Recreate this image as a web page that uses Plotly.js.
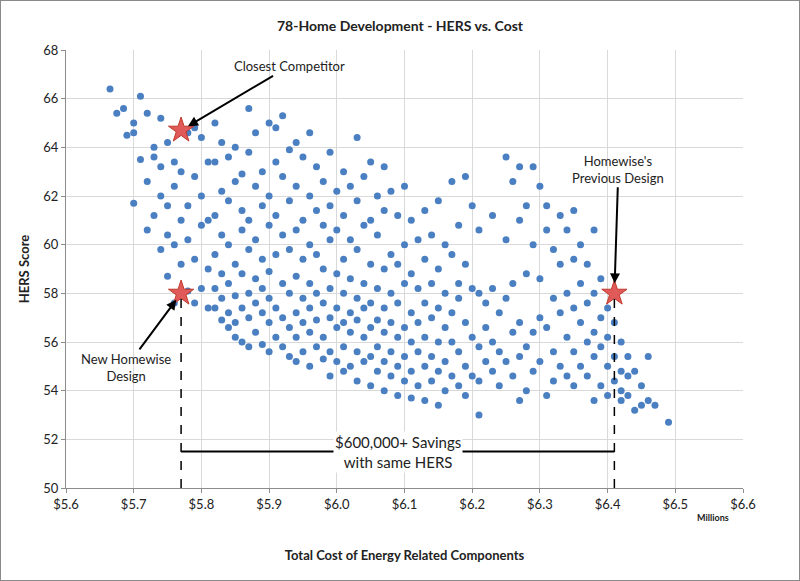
<!DOCTYPE html>
<html>
<head>
<meta charset="utf-8">
<script src="https://cdn.plot.ly/plotly-3.0.1.min.js"></script>
<style>
  html, body { margin: 0; padding: 0; background: #fff; }
  #chart { width: 798px; height: 579px; border: 1px solid #8a8a8a; }
</style>
</head>
<body>
<div id="chart"></div>
<script>
// HERS score vs. total cost of energy components (millions), grouped by cost column
const costColumns = [
  5.665, 5.675, 5.685, 5.69, 5.70, 5.71, 5.72, 5.73, 5.74, 5.75, 5.76, 5.77, 5.78, 5.79, 5.80, 5.81,
  5.82, 5.83, 5.84, 5.85, 5.86, 5.87, 5.88, 5.89, 5.90, 5.91, 5.92, 5.93, 5.94, 5.95, 5.96, 5.97,
  5.98, 5.99, 6.00, 6.01, 6.02, 6.03, 6.04, 6.05, 6.06, 6.07, 6.08, 6.09, 6.10, 6.11, 6.12, 6.13,
  6.14, 6.15, 6.16, 6.17, 6.18, 6.19, 6.20, 6.21, 6.22, 6.23, 6.24, 6.25, 6.26, 6.27, 6.28, 6.29,
  6.30, 6.31, 6.32, 6.33, 6.34, 6.35, 6.36, 6.37, 6.38, 6.39, 6.40, 6.41, 6.42, 6.43, 6.44, 6.45,
  6.46, 6.47, 6.49
];
const scoreColumns = [
  [66.4], [65.4], [65.6], [64.5], [64.6, 61.7, 65.0], [66.1, 63.5], [60.6, 65.4, 62.6],
  [63.6, 64.0, 61.2], [65.2, 63.2, 59.8, 62.0], [64.2, 61.6, 58.7, 60.4], [62.4, 60.0, 63.4, 57.6],
  [63.0, 59.2, 61.0], [64.6, 61.6, 58.1, 60.2], [62.8, 57.6, 59.4, 64.8], [64.4, 58.2, 60.8, 62.0],
  [63.4, 57.4, 59.0, 61.0],
  [65.0, 63.4, 61.2, 59.6, 58.2, 57.4], [64.2, 62.2, 60.4, 58.8, 57.8, 56.9],
  [63.6, 61.8, 60.0, 58.4, 57.2, 56.6], [64.0, 62.6, 59.2, 57.9, 56.8, 56.2],
  [62.9, 61.4, 60.6, 58.8, 57.4, 56.0], [65.6, 63.8, 61.0, 59.8, 58.0, 57.0, 55.8],
  [64.6, 62.4, 60.2, 58.6, 57.6, 56.4], [63.0, 61.6, 59.4, 58.2, 57.2, 55.9],
  [65.0, 62.0, 60.8, 58.9, 57.8, 56.8, 55.6], [64.8, 63.4, 61.2, 59.6, 57.4, 56.2],
  [65.3, 62.8, 60.4, 58.4, 57.0, 55.8], [63.9, 61.8, 59.8, 58.0, 56.6, 55.4],
  [64.2, 62.4, 60.6, 58.7, 57.2, 56.2, 55.2], [63.6, 61.0, 59.4, 57.8, 56.8, 55.6],
  [64.6, 62.0, 60.0, 58.4, 57.4, 56.4, 55.0], [63.2, 61.4, 59.6, 58.0, 56.9, 55.8],
  [62.6, 60.8, 59.0, 57.6, 56.2, 55.3], [63.8, 61.6, 60.2, 58.2, 57.0, 55.6, 54.6],
  [62.2, 60.6, 58.8, 57.4, 56.6, 55.2], [63.0, 61.2, 59.4, 58.0, 56.8, 55.8, 54.8],
  [62.4, 60.2, 58.6, 57.2, 56.4, 55.0], [64.4, 61.8, 59.8, 57.8, 56.9, 55.6, 54.4],
  [62.8, 60.8, 58.4, 57.4, 56.2, 55.2], [63.4, 61.0, 59.2, 57.6, 56.6, 55.4, 54.2],
  [62.0, 60.4, 58.2, 56.9, 55.8, 54.8], [63.2, 61.4, 59.0, 57.4, 56.4, 55.2, 54.0],
  [62.2, 59.6, 58.0, 56.8, 55.6, 54.6], [61.2, 59.2, 57.6, 56.2, 55.0, 53.8],
  [62.4, 60.0, 58.4, 56.6, 55.4, 54.4], [61.0, 58.8, 57.2, 56.0, 54.8, 53.7],
  [60.2, 58.2, 56.8, 55.6, 54.2], [61.4, 59.4, 57.6, 56.2, 55.0, 53.6],
  [60.4, 58.4, 57.0, 55.4, 54.4], [61.8, 59.0, 57.4, 56.0, 54.8, 53.4],
  [60.0, 58.0, 56.6, 55.2, 54.0], [62.6, 59.6, 57.2, 56.0, 54.6],
  [60.8, 58.4, 57.8, 55.6, 54.2], [62.8, 59.2, 56.8, 55.0, 53.8],
  [61.6, 58.2, 56.2, 54.6], [60.6, 58.0, 55.8, 54.4, 53.0], [57.6, 56.6, 55.2],
  [61.2, 58.2, 56.0, 54.8], [57.2, 55.6, 54.2], [63.6, 60.2, 57.8, 55.2],
  [62.6, 58.4, 56.4, 54.6], [63.2, 61.0, 56.8, 55.4, 53.6], [61.6, 58.8, 55.8, 54.0],
  [63.2, 60.0, 56.4, 54.8], [62.4, 58.6, 57.0, 55.2], [61.6, 60.6, 56.6, 53.8],
  [59.8, 57.8, 55.6, 54.4], [61.2, 59.2, 57.2, 55.0], [60.6, 58.0, 56.2, 54.6],
  [61.4, 59.4, 57.4, 55.6, 54.2], [60.0, 58.4, 56.8, 55.0], [59.2, 57.6, 56.0, 54.6],
  [60.6, 58.0, 56.4, 55.4, 53.6], [58.6, 57.0, 55.8, 54.2], [57.4, 56.2, 55.0, 53.8],
  [56.8, 55.4, 54.4], [56.0, 54.8, 54.0, 53.6], [55.4, 54.6, 53.8], [54.8, 53.2],
  [54.2, 53.4], [55.4, 53.6], [53.4], [52.7]
];

const starCosts = [5.77, 5.77, 6.41];
const starScores = [64.7, 58.0, 58.0];
const savingsLevel = 51.5;

const cost = [];
const score = [];
costColumns.forEach((c, i) => {
  scoreColumns[i].forEach((s) => { cost.push(c); score.push(s); });
});

const FONT = "Lato, 'Open Sans', sans-serif";
const INK = "#222";

const traces = [
  {
    type: "scatter", mode: "markers", x: cost, y: score,
    marker: { color: "#4a7fc1", size: 7 }, hoverinfo: "skip"
  },
  {
    type: "scatter", mode: "markers", x: starCosts, y: starScores,
    marker: { symbol: "star", size: 19, color: "#e05a5a", line: { color: "#c0392b", width: 1 } },
    hoverinfo: "skip"
  }
];

const layout = {
  width: 798, height: 579,
  margin: { l: 65, r: 56, t: 49, b: 92 },
  paper_bgcolor: "#fff", plot_bgcolor: "#fff",
  showlegend: false,
  font: { family: FONT, color: INK, size: 13 },
  title: { text: "<b>78-Home Development - HERS vs. Cost</b>", x: 0.5, xanchor: "center", y: 0.965, font: { size: 14 } },
  xaxis: {
    range: [5.6, 6.6], dtick: 0.1, tickprefix: "$", tickformat: ".1f",
    showgrid: true, gridcolor: "#d9d9d9", linecolor: "#8c8c8c", showline: true,
    ticks: "outside", tickcolor: "#8c8c8c", ticklen: 4, zeroline: false,
    title: { text: "<b>Total Cost of Energy Related Components</b>", standoff: 40, font: { size: 13 } }
  },
  yaxis: {
    range: [50, 68], dtick: 2,
    showgrid: true, gridcolor: "#d9d9d9", linecolor: "#8c8c8c", showline: true,
    ticks: "outside", tickcolor: "#8c8c8c", ticklen: 4, zeroline: false,
    title: { text: "<b>HERS Score</b>", standoff: 10, font: { size: 13 } }
  },
  shapes: [
    { type: "line", x0: starCosts[1], x1: starCosts[1], y0: 50, y1: starScores[1], line: { color: "#000", width: 1.5, dash: "dash" } },
    { type: "line", x0: starCosts[2], x1: starCosts[2], y0: 50, y1: starScores[2], line: { color: "#000", width: 1.5, dash: "dash" } },
    { type: "line", x0: starCosts[1], x1: starCosts[2], y0: savingsLevel, y1: savingsLevel, line: { color: "#000", width: 2 } }
  ],
  annotations: [
    { x: starCosts[0], y: starScores[0], text: "Closest Competitor", ax: 108, ay: -64, showarrow: true,
      arrowhead: 2, arrowsize: 1, arrowwidth: 2, arrowcolor: "#000", standoff: 8, font: { size: 13 } },
    { x: starCosts[1], y: starScores[1], text: "New Homewise<br>Design", ax: -55, ay: 74, showarrow: true,
      arrowhead: 2, arrowsize: 1, arrowwidth: 2, arrowcolor: "#000", standoff: 8, font: { size: 13 } },
    { x: starCosts[2], y: starScores[2], text: "Homewise's<br>Previous Design", ax: 4, ay: -124, showarrow: true,
      arrowhead: 2, arrowsize: 1, arrowwidth: 2, arrowcolor: "#000", standoff: 10, font: { size: 13 } },
    { x: (starCosts[1] + starCosts[2]) / 2, y: savingsLevel, text: "$600,000+ Savings<br>with same HERS",
      showarrow: false, bgcolor: "#fff", font: { size: 15 }, yanchor: "middle" },
    { xref: "paper", yref: "paper", x: 0.955, y: -0.085, text: "<b>Millions</b>", showarrow: false,
      xanchor: "center", font: { size: 9 } }
  ]
};

Plotly.newPlot("chart", traces, layout, { displayModeBar: false, staticPlot: true });
</script>
</body>
</html>
